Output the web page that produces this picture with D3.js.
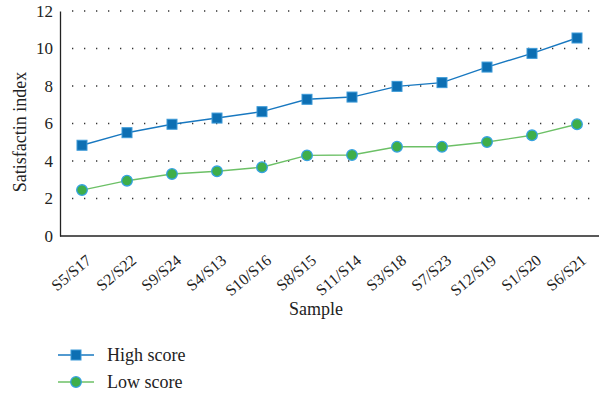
<!DOCTYPE html>
<html>
<head>
<meta charset="utf-8">
<script src="https://cdn.jsdelivr.net/npm/d3@7"></script>
<style>
  body { margin: 0; background: #fff; }
  svg { font-family: 'Liberation Serif', 'DejaVu Serif', serif; }
</style>
</head>
<body>
<div id="chart"></div>
<script>
const samples = ['S5/S17', 'S2/S22', 'S9/S24', 'S4/S13', 'S10/S16', 'S8/S15',
                 'S11/S14', 'S3/S18', 'S7/S23', 'S12/S19', 'S1/S20', 'S6/S21'];
const highScore = [4.84, 5.51, 5.96, 6.29, 6.63, 7.29, 7.41, 7.98, 8.18, 9.01, 9.74, 10.56];
const lowScore = [2.45, 2.95, 3.31, 3.45, 3.67, 4.30, 4.32, 4.76, 4.76, 5.01, 5.37, 5.96];
const yTicks = [0, 2, 4, 6, 8, 10, 12];

const width = 602, height = 395;
const plotLeft = 60, plotRight = 599, plotTop = 11, plotBottom = 236;
const fontFam = "'Liberation Serif', 'DejaVu Serif', serif";

const svg = d3.select('#chart').append('svg')
  .attr('width', width)
  .attr('height', height);

const xScale = d3.scalePoint()
  .domain(samples)
  .range([82, 577]);
const yScale = d3.scaleLinear()
  .domain([0, 12])
  .range([plotBottom, plotTop]);

// dotted grid
svg.append('g')
  .selectAll('line')
  .data(yTicks.filter(d => d > 0))
  .enter().append('line')
  .attr('x1', plotLeft + 12).attr('x2', plotRight - 6)
  .attr('y1', d => yScale(d)).attr('y2', d => yScale(d))
  .attr('stroke', '#333')
  .attr('stroke-width', 1.3)
  .attr('stroke-dasharray', '1.3 10.7');

// y axis
const yAxis = d3.axisLeft(yScale).tickValues(yTicks).tickSize(0).tickPadding(7);
const gy = svg.append('g')
  .attr('transform', `translate(${plotLeft},0)`)
  .call(yAxis);
gy.select('.domain').attr('stroke', '#222').attr('stroke-width', 1.3);
gy.selectAll('text').style('font-size', '17px').style('fill', '#222')
  .style('font-family', fontFam);

// x axis
const xAxis = d3.axisBottom(xScale).tickSize(0).tickPadding(0);
const gx = svg.append('g')
  .attr('transform', `translate(0,${plotBottom})`)
  .call(xAxis);
gx.select('.domain').attr('d', `M${plotLeft},0H${plotRight}`)
  .attr('stroke', '#222').attr('stroke-width', 1.6);
gx.selectAll('text')
  .style('font-size', '16px').style('fill', '#222')
  .style('font-family', fontFam)
  .style('text-anchor', 'end')
  .attr('y', 0)
  .attr('dy', null)
  .attr('transform', 'translate(10,26) rotate(-40)');

svg.append('text')
  .attr('x', 316).attr('y', 315)
  .style('text-anchor', 'middle')
  .style('font-size', '18px').style('fill', '#222')
  .text('Sample');

svg.append('text')
  .attr('transform', `translate(26,${(70 + 194) / 2}) rotate(-90)`)
  .style('text-anchor', 'middle')
  .style('font-size', '18px').style('fill', '#222')
  .text('Satisfactin index');

const line = d3.line()
  .x((d, i) => xScale(samples[i]))
  .y(d => yScale(d));

// low score
svg.append('path')
  .datum(lowScore)
  .attr('d', line)
  .attr('fill', 'none')
  .attr('stroke', '#6cc066')
  .attr('stroke-width', 1.4);
svg.selectAll('.low')
  .data(lowScore).enter()
  .append('circle')
  .attr('class', 'low')
  .attr('cx', (d, i) => xScale(samples[i]))
  .attr('cy', d => yScale(d))
  .attr('r', 5.3)
  .attr('fill', '#3fae49')
  .attr('stroke', '#35a2e0')
  .attr('stroke-width', 1.3);

// high score
svg.append('path')
  .datum(highScore)
  .attr('d', line)
  .attr('fill', 'none')
  .attr('stroke', '#1878c0')
  .attr('stroke-width', 1.4);
svg.selectAll('.high')
  .data(highScore).enter()
  .append('rect')
  .attr('class', 'high')
  .attr('x', (d, i) => xScale(samples[i]) - 5)
  .attr('y', d => yScale(d) - 5)
  .attr('width', 10).attr('height', 10)
  .attr('fill', '#0d6fb3')
  .attr('stroke', '#3d9ad8')
  .attr('stroke-width', 1);

// legend
const legendData = [
  { name: 'High score', color: '#1878c0', shape: 'square' },
  { name: 'Low score', color: '#6cc066', shape: 'circle' }
];
const legend = svg.append('g').selectAll('g')
  .data(legendData).enter()
  .append('g')
  .attr('transform', (d, i) => `translate(0,${355 + i * 27})`);
legend.append('line')
  .attr('x1', 58).attr('x2', 94)
  .attr('stroke', d => d.color)
  .attr('stroke-width', 1.4);
legend.filter(d => d.shape === 'square').append('rect')
  .attr('x', 71).attr('y', -5).attr('width', 10).attr('height', 10)
  .attr('fill', '#0d6fb3').attr('stroke', '#3d9ad8');
legend.filter(d => d.shape === 'circle').append('circle')
  .attr('cx', 76).attr('r', 5.3)
  .attr('fill', '#3fae49').attr('stroke', '#35a2e0').attr('stroke-width', 1.3);
legend.append('text')
  .attr('x', 107).attr('y', 6)
  .style('font-size', '18px').style('fill', '#222')
  .text(d => d.name);
</script>
</body>
</html>
